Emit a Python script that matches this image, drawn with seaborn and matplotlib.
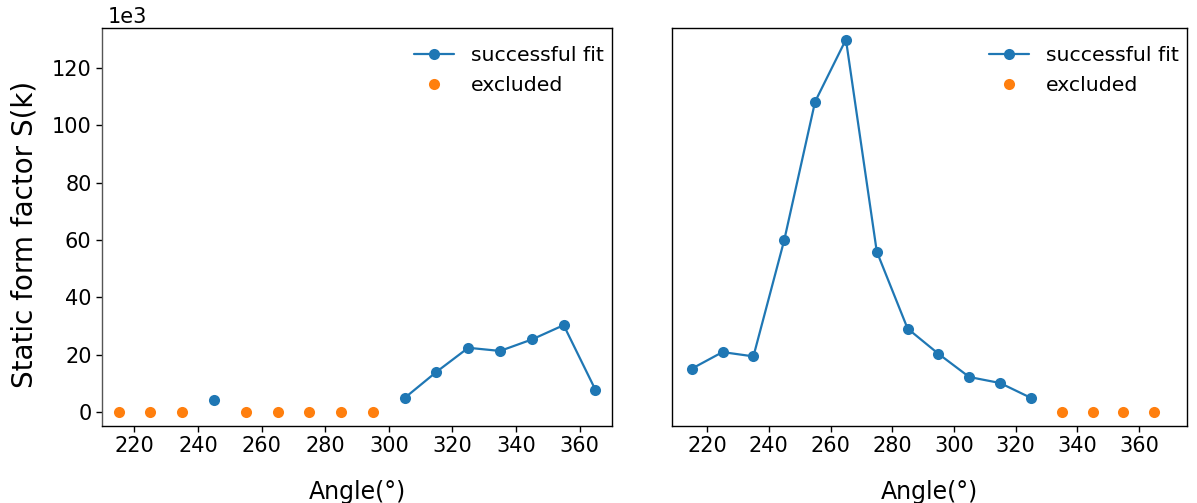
import numpy as np
import pandas as pd
import matplotlib
matplotlib.use("Agg")
import matplotlib.pyplot as plt
from matplotlib.lines import Line2D
import seaborn as sns

angles = [215, 225, 235, 245, 255, 265, 275, 285, 295, 305, 315, 325, 335, 345, 355, 365]

# left panel (values in units of 1e3)
left_fit = [np.nan, np.nan, np.nan, 4.2, np.nan, np.nan, np.nan, np.nan, np.nan,
            4.9, 14.0, 22.4, 21.3, 25.3, 30.3, 7.7]
left_excl = [0, 0, 0, np.nan, 0, 0, 0, 0, 0, np.nan, np.nan, np.nan, np.nan, np.nan, np.nan, np.nan]

# right panel
right_fit = [15.1, 20.9, 19.4, 60.0, 108.3, 130.0, 56.0, 29.1, 20.3, 12.2, 10.1, 4.9,
             np.nan, np.nan, np.nan, np.nan]
right_excl = [np.nan] * 12 + [0, 0, 0, 0]

sns.set_theme(style="ticks", rc={
    "text.color": "black", "axes.labelcolor": "black",
    "xtick.color": "black", "ytick.color": "black", "axes.edgecolor": "black",
})
plt.rcParams["font.family"] = ["DejaVu Sans"]

fig = plt.figure(figsize=(11.97, 5.03), dpi=100)
axL = fig.add_axes([102 / 1197, 1 - 426 / 503, 510 / 1197, (426 - 27.5) / 503])
axR = fig.add_axes([672 / 1197, 1 - 426 / 503, 515 / 1197, (426 - 27.5) / 503], sharey=axL)

C0, C1 = "#1f77b4", "#ff7f0e"
MS = 8


def draw(ax, fit, excl):
    df = pd.DataFrame({"angle": angles, "fit": np.array(fit) * 1e3, "excl": np.array(excl) * 1e3})
    grp = df["fit"].isna().cumsum()
    for _, seg in df[df["fit"].notna()].groupby(grp[df["fit"].notna()]):
        sns.lineplot(data=seg, x="angle", y="fit", ax=ax, color=C0, marker="o",
                     markersize=MS, markeredgewidth=0, linewidth=1.6, legend=False)
    ex = df[df["excl"].notna()]
    sns.scatterplot(data=ex, x="angle", y="excl", ax=ax, color=C1, s=MS ** 2,
                    linewidth=0, legend=False)
    handles = [Line2D([], [], color=C0, marker="o", markersize=MS, markeredgewidth=0, linewidth=1.6),
               Line2D([], [], color=C1, marker="o", markersize=MS, markeredgewidth=0, linestyle="none")]
    w = ax.get_position().width * 1197
    ax.legend(handles, ["successful fit", "excluded"], loc="upper right", frameon=False,
              fontsize=14.7, bbox_to_anchor=(1 + 10 / w, 1.0), labelspacing=0.55)
    ax.set_xlabel("Angle(°)", fontsize=17, labelpad=17)
    ax.set_xticks([220, 240, 260, 280, 300, 320, 340, 360])
    ax.tick_params(labelsize=15, length=4, width=1, color="black")
    for sp in ax.spines.values():
        sp.set_visible(True)
        sp.set_color("black")
        sp.set_linewidth(1.0)


draw(axL, left_fit, left_excl)
draw(axR, right_fit, right_excl)

axL.set_xlim(209.8, 370.2)
axR.set_xlim(208.6, 375.6)
axL.set_ylim(-4.9e3, 134.2e3)
axL.set_yticks([0, 20e3, 40e3, 60e3, 80e3, 100e3, 120e3])
axL.ticklabel_format(axis="y", style="sci", scilimits=(3, 3))
axL.yaxis.get_offset_text().set_fontsize(15)
axL.yaxis.get_offset_text().set_x(6 / 510)
axL.set_ylabel("Static form factor S(k)", fontsize=20)
axL.yaxis.set_label_coords(-0.125, 0.48)
axL.spines["left"].set_color("#555555")
axR.set_ylabel("")
axR.tick_params(axis="y", left=False, labelleft=False)

fig.savefig("out.png", dpi=100)
